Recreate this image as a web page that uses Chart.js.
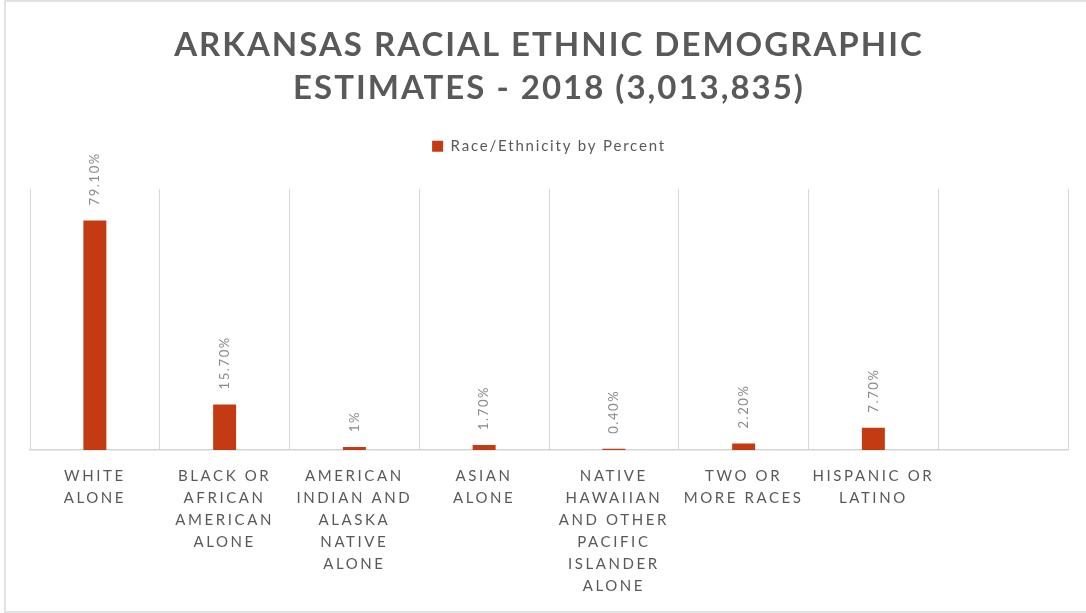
<!DOCTYPE html>
<html>
<head>
<meta charset="utf-8">
<script src="https://cdn.jsdelivr.net/npm/chart.js@4/dist/chart.umd.min.js"></script>
<style>
  html, body { margin: 0; padding: 0; background: #ffffff; overflow: hidden; }
  #frame { position: absolute; left: 4px; top: 0px; width: 1100px; height: 609px;
           border-top: 2px solid #e2e2e2; border-left: 2px solid #e2e2e2; border-bottom: 2px solid #e2e2e2; }
  #wrap { position: absolute; left: 0; top: 0; width: 1086px; height: 613px; }
</style>
</head>
<body>
<div id="frame"></div>
<div id="wrap"><canvas id="c" width="1086" height="613"></canvas></div>
<script>
// ---- data ----
const categories = [
  ["WHITE", "ALONE"],
  ["BLACK OR", "AFRICAN", "AMERICAN", "ALONE"],
  ["AMERICAN", "INDIAN AND", "ALASKA", "NATIVE", "ALONE"],
  ["ASIAN", "ALONE"],
  ["NATIVE", "HAWAIIAN", "AND OTHER", "PACIFIC", "ISLANDER", "ALONE"],
  ["TWO OR", "MORE RACES"],
  ["HISPANIC OR", "LATINO"],
  [""]
];
const percentValues = [79.1, 15.7, 1.0, 1.7, 0.4, 2.2, 7.7, null];
const valueLabels = ["79.10%", "15.70%", "1%", "1.70%", "0.40%", "2.20%", "7.70%", ""];
const seriesName = "Race/Ethnicity by Percent";
const titleLines = ["ARKANSAS RACIAL ETHNIC DEMOGRAPHIC", "ESTIMATES - 2018 (3,013,835)"];

const BAR_COLOR = "#C43A13";
const TEXT_GRAY = "#595959";

function withSpacing(obj, method, spacing, after) {
  const orig = obj[method];
  obj[method] = function (...args) {
    const ctx = this.ctx;
    ctx.save();
    ctx.letterSpacing = spacing;
    const r = orig.apply(this, args);
    ctx.restore();
    if (after) after.call(this);
    return r;
  };
}

// letter-spacing wrappers for axis labels, title and legend
const spacingPlugin = {
  id: "spacing",
  beforeUpdate(chart) {
    const lg = chart.legend;
    if (lg && !lg.__ls) {
      withSpacing(lg, "fit", "1.8px", function () { this.height += 25; });
      withSpacing(lg, "draw", "1.8px");
      lg.__ls = true;
    }
    const tb = chart.titleBlock;
    if (tb && !tb.__ls) {
      withSpacing(tb, "draw", "2px");
      tb.__ls = true;
    }
  },
  afterLayout(chart) {
    const sc = chart.scales.x;
    if (sc && !sc.__ls) {
      withSpacing(sc, "drawLabels", "2.6px");
      sc.__ls = true;
    }
  }
};

// rotated value labels above the bars
const valueLabelPlugin = {
  id: "valueLabels",
  afterDatasetsDraw(chart) {
    const ctx = chart.ctx;
    const meta = chart.getDatasetMeta(0);
    ctx.save();
    ctx.font = "13px Lato";
    ctx.fillStyle = "#8a8a8a";
    ctx.letterSpacing = "1.6px";
    ctx.textAlign = "left";
    ctx.textBaseline = "middle";
    meta.data.forEach((el, i) => {
      const v = percentValues[i];
      if (v === null || v === undefined) return;
      ctx.save();
      ctx.translate(el.x, el.y - 15);
      ctx.rotate(-Math.PI / 2);
      ctx.fillText(valueLabels[i], 0, 0);
      ctx.restore();
    });
    ctx.restore();
  }
};

new Chart(document.getElementById("c"), {
  type: "bar",
  data: {
    labels: categories,
    datasets: [{
      label: seriesName,
      data: percentValues,
      backgroundColor: BAR_COLOR,
      borderWidth: 0,
      barPercentage: 0.177,
      categoryPercentage: 1.0
    }]
  },
  options: {
    responsive: false,
    animation: false,
    layout: { padding: { left: 30, right: 18, top: 0, bottom: 0 } },
    plugins: {
      title: {
        display: true,
        text: titleLines,
        color: TEXT_GRAY,
        font: { family: "Lato", size: 33, weight: "bold", lineHeight: 1.3 },
        padding: { top: 24, bottom: 15 }
      },
      legend: {
        display: true,
        position: "top",
        labels: {
          color: TEXT_GRAY,
          font: { family: "Lato", size: 15 },
          boxWidth: 11,
          boxHeight: 11,
          padding: 14
        }
      },
      tooltip: { enabled: false }
    },
    scales: {
      x: {
        offset: true,
        afterFit(scale) { scale.height = 163; },
        grid: { display: true, color: "#d9d9d9", lineWidth: 1, offset: true, drawTicks: false },
        border: { display: true, color: "#d4d4d4", width: 1.5 },
        ticks: {
          color: TEXT_GRAY,
          font: { family: "Lato", size: 15, lineHeight: 1.47 },
          padding: 15,
          maxRotation: 0,
          autoSkip: false
        }
      },
      y: {
        display: false,
        min: 0,
        max: 90
      }
    }
  },
  plugins: [spacingPlugin, valueLabelPlugin]
});
</script>
</body>
</html>
